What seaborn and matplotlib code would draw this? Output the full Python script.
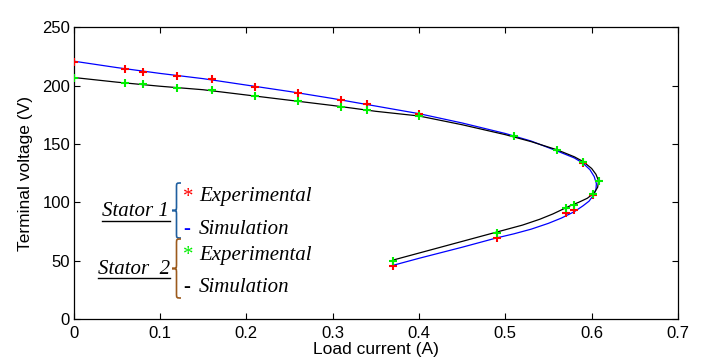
import matplotlib
matplotlib.use("Agg")
import matplotlib.pyplot as plt
from matplotlib.path import Path
from matplotlib.patches import PathPatch
from matplotlib.lines import Line2D
import seaborn as sns

# Stator 1 - simulation (blue line)
s1_sim_current = [0.000, 0.05, 0.10, 0.15, 0.20, 0.25, 0.30, 0.35, 0.40, 0.45,
                  0.50, 0.53, 0.56, 0.58, 0.59, 0.598, 0.603, 0.6055, 0.605, 0.602,
                  0.597, 0.59, 0.58, 0.565, 0.55, 0.53, 0.51, 0.49, 0.45, 0.40, 0.37]
s1_sim_voltage = [221, 215.5, 210.5, 206, 200.5, 195, 189, 182.5, 176, 168,
                  159, 152.5, 144, 138, 133.5, 128, 122, 116, 111, 106,
                  101, 97, 92, 86.5, 82, 77, 73, 69.5, 61.5, 52, 46]

# Stator 2 - simulation (black line)
s2_sim_current = [0.000, 0.05, 0.10, 0.15, 0.20, 0.25, 0.30, 0.35, 0.40, 0.45,
                  0.50, 0.53, 0.56, 0.58, 0.59, 0.600, 0.605, 0.608, 0.607, 0.603,
                  0.595, 0.585, 0.575, 0.565, 0.555, 0.54, 0.52, 0.50, 0.45, 0.40, 0.37]
s2_sim_voltage = [207, 203, 199.5, 196.5, 192, 187.5, 183, 178, 174, 166.5,
                  158, 152, 145, 139, 135, 129, 124, 118.5, 113, 108,
                  103.5, 100, 97, 93.5, 90, 85.5, 80.5, 76.5, 66.5, 56.5, 50.5]

# Stator 1 - experimental (red)
s1_exp_current = [0.00, 0.06, 0.08, 0.12, 0.16, 0.21, 0.26, 0.31, 0.34, 0.40,
                  0.59, 0.602, 0.58, 0.57, 0.49, 0.37]
s1_exp_voltage = [220, 214, 212, 208.5, 206, 198.5, 194, 187.5, 184, 176,
                  134, 106, 93, 90.5, 69, 45.5]

# Stator 2 - experimental (green)
s2_exp_current = [0.00, 0.06, 0.08, 0.12, 0.16, 0.21, 0.26, 0.31, 0.34, 0.40,
                  0.51, 0.56, 0.59, 0.608, 0.602, 0.58, 0.57, 0.49, 0.37]
s2_exp_voltage = [206.5, 202.5, 201, 198, 196, 191, 186.5, 182, 179, 174,
                  156.5, 144.5, 134.5, 118, 107.5, 97.5, 95, 74, 50]

x_ticks = [0, 0.1, 0.2, 0.3, 0.4, 0.5, 0.6, 0.7]
x_tick_labels = ["0", "0.1", "0.2", "0.3", "0.4", "0.5", "0.6", "0.7"]
y_ticks = [0, 50, 100, 150, 200, 250]

W, H = 705, 357


def fx(px):
    return px / W


def fy(py):
    return 1 - py / H


def brace(fig, x, top, bot, w, color):
    # left-pointing curly brace, pixel coords from top-left
    xm = x + w / 2
    mid = (top + bot) / 2
    d = (bot - top) * 0.08
    pts = [(x + w, top), (xm, top), (xm, top), (xm, top + d),
           (xm, mid - d),
           (xm, mid), (xm, mid), (x, mid),
           (xm, mid), (xm, mid), (xm, mid + d),
           (xm, bot - d),
           (xm, bot), (xm, bot), (x + w, bot)]
    codes = [Path.MOVETO, Path.CURVE4, Path.CURVE4, Path.CURVE4,
             Path.LINETO,
             Path.CURVE4, Path.CURVE4, Path.CURVE4,
             Path.CURVE4, Path.CURVE4, Path.CURVE4,
             Path.LINETO,
             Path.CURVE4, Path.CURVE4, Path.CURVE4]
    path = Path([(fx(a), fy(b)) for a, b in pts], codes)
    fig.patches.append(PathPatch(path, facecolor="none", edgecolor=color,
                                 lw=1.2, transform=fig.transFigure))


def main():
    plt.rcParams["font.family"] = ["Liberation Sans", "DejaVu Sans"]
    fig = plt.figure(figsize=(W / 100, H / 100), dpi=100)
    ax = fig.add_axes([fx(73.5), fy(319), fx(678 - 73.5), (319 - 27.3) / H])

    sns.lineplot(x=s1_sim_current, y=s1_sim_voltage, sort=False, estimator=None,
                 color="#0000ff", lw=0.9, ax=ax, zorder=2)
    sns.lineplot(x=s2_sim_current, y=s2_sim_voltage, sort=False, estimator=None,
                 color="black", lw=0.9, ax=ax, zorder=2)
    sns.scatterplot(x=s1_exp_current, y=s1_exp_voltage, marker="+", color="#ff0000",
                    s=26, linewidth=1.5, ax=ax, zorder=3)
    sns.scatterplot(x=s2_exp_current, y=s2_exp_voltage, marker="+", color="#00ee00",
                    s=26, linewidth=1.5, ax=ax, zorder=4)

    ax.set_xlim(0, 0.7)
    ax.set_ylim(0, 250)
    ax.set_xticks(x_ticks)
    ax.set_xticklabels(x_tick_labels)
    ax.set_yticks(y_ticks)
    ax.tick_params(direction="in", top=True, right=True, length=4, width=0.8,
                   labelsize=12, colors="black")
    ax.tick_params(axis="x", pad=5)
    ax.tick_params(axis="y", pad=2.5)
    for spine in ax.spines.values():
        spine.set_linewidth(0.9)
    ax.set_xlabel("Load current (A)", fontsize=12.5)
    ax.set_ylabel("Terminal voltage (V)", fontsize=12.5)
    ax.xaxis.set_label_coords(0.5, -0.078)
    ax.yaxis.set_label_coords(-0.067, 0.5)

    # hand-made legend
    serif = dict(family=["Liberation Serif", "DejaVu Serif"], style="italic", fontsize=15)
    fig.text(fx(101.5), fy(216.5), "Stator 1", va="baseline", ha="left", **serif)
    fig.text(fx(98), fy(274), "Stator  2", va="baseline", ha="left", **serif)
    fig.lines.append(Line2D([fx(101.5), fx(170)], [fy(220.5), fy(220.5)], color="black",
                            lw=1.0, transform=fig.transFigure))
    fig.lines.append(Line2D([fx(98), fx(170)], [fy(277.5), fy(277.5)], color="black",
                            lw=1.0, transform=fig.transFigure))
    brace(fig, 172, 183, 238, 9, "#1f5f9f")
    brace(fig, 172, 239, 298, 9, "#9c5a1c")

    mark = dict(family=["Liberation Serif", "DejaVu Serif"], fontsize=15, va="baseline")
    fig.text(fx(183), fy(201.5), "*", color="#ff0000", **mark)
    fig.text(fx(183), fy(233.5), "-", color="#0000ff", fontweight="bold", **mark)
    fig.text(fx(183), fy(260), "*", color="#00ee00", **mark)
    fig.text(fx(183), fy(291.5), "-", color="black", fontweight="bold", **mark)
    fig.text(fx(199), fy(201.5), "Experimental", va="baseline", **serif)
    fig.text(fx(199), fy(233.5), "Simulation", va="baseline", **serif)
    fig.text(fx(199), fy(260), "Experimental", va="baseline", **serif)
    fig.text(fx(199), fy(291.5), "Simulation", va="baseline", **serif)

    fig.savefig("out.png", dpi=100)
    plt.close(fig)


if __name__ == "__main__":
    main()
